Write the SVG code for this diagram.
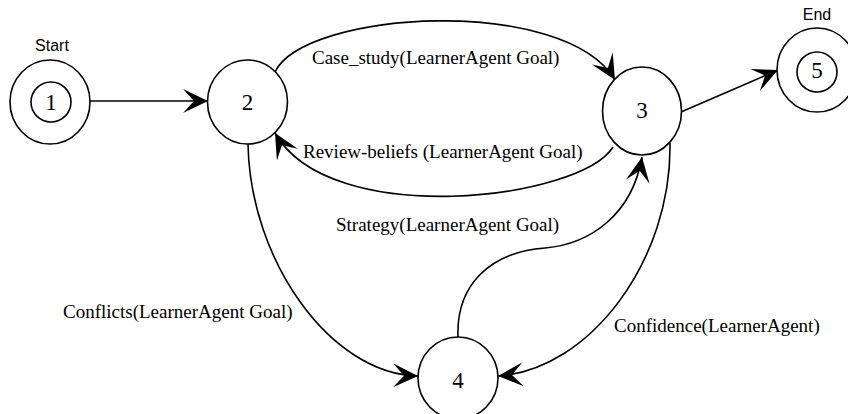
<svg xmlns="http://www.w3.org/2000/svg" width="848" height="414" viewBox="0 0 848 414">
  <defs>
    <!-- filled swallow-tail arrowhead shared by all transitions -->
    <marker id="head" viewBox="0 0 25 24" refX="25" refY="12" markerWidth="25" markerHeight="24" markerUnits="userSpaceOnUse" orient="auto">
      <path d="M0,0 L25,12 L0,24 L11,12 Z" fill="#000"/>
    </marker>
  </defs>
  <style>
    .state { fill: #fff; stroke: #000; stroke-width: 1.6; }
    .edge { fill: none; stroke: #000; stroke-width: 1.6; marker-end: url(#head); }
    .num { font-family: "Liberation Serif", "Times New Roman", serif; font-size: 23px; text-anchor: middle; fill: #000; }
    .lbl { font-family: "Liberation Serif", "Times New Roman", serif; font-size: 19px; fill: #000; }
    .tag { font-family: "Liberation Sans", Arial, sans-serif; font-size: 16px; text-anchor: middle; fill: #000; }
  </style>
  <rect width="848" height="414" fill="#fff"/>

  <!-- transitions -->
  <g id="connectors">
    <path class="edge" d="M90,101 L208,101"/>
    <path class="edge" d="M275,72 C305,10 565,-5 615,80"/>
    <path class="edge" d="M613,147 C580,200 330,230 275,133"/>
    <path class="edge" d="M248,144 C250,260 330,374 418,376"/>
    <path class="edge" d="M458,337 C456,285 490,252 545,248 C590,244 632,215 642,157"/>
    <path class="edge" d="M670,143 C672,260 590,370 498,376"/>
    <path class="edge" d="M681,112 L778,70"/>
    <text class="lbl" x="312" y="64">Case_study(LearnerAgent Goal)</text>
    <text class="lbl" x="303" y="158">Review-beliefs (LearnerAgent Goal)</text>
    <text class="lbl" x="336" y="231">Strategy(LearnerAgent Goal)</text>
    <text class="lbl" x="63" y="318">Conflicts(LearnerAgent Goal)</text>
    <text class="lbl" x="614" y="332">Confidence(LearnerAgent)</text>
  </g>

  <!-- states -->
  <g id="node1">
    <text class="tag" x="52" y="51">Start</text>
    <ellipse class="state" cx="50" cy="102" rx="40" ry="42"/>
    <circle class="state" cx="51" cy="102" r="20"/>
    <text class="num" x="51" y="110">1</text>
  </g>
  <g id="node2">
    <ellipse class="state" cx="247.5" cy="102" rx="40" ry="42"/>
    <text class="num" x="247.5" y="110">2</text>
  </g>
  <g id="node3">
    <ellipse class="state" cx="642" cy="111" rx="39.5" ry="44"/>
    <text class="num" x="642" y="118">3</text>
  </g>
  <g id="node4">
    <ellipse class="state" cx="458" cy="378" rx="40" ry="41"/>
    <text class="num" x="458" y="388">4</text>
  </g>
  <g id="node5">
    <text class="tag" x="817" y="20">End</text>
    <ellipse class="state" cx="817" cy="70" rx="40" ry="42"/>
    <circle class="state" cx="817" cy="72" r="20"/>
    <text class="num" x="817" y="78">5</text>
  </g>
</svg>
